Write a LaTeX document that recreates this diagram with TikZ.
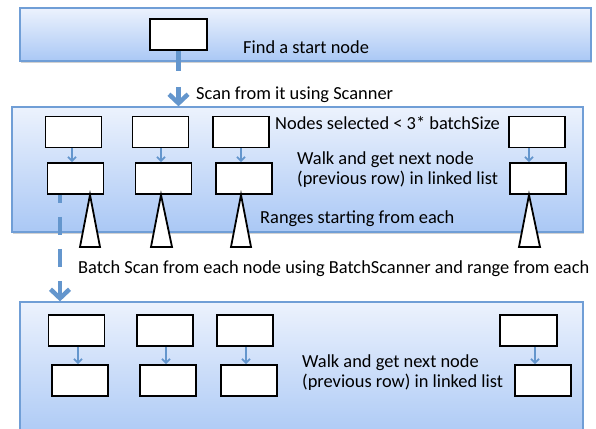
\documentclass[tikz,border=0pt]{standalone}
\usepackage{fontspec}
\setmainfont{Carlito}
\usetikzlibrary{arrows.meta,shadows}
\definecolor{panelTop}{RGB}{236,242,253}
\definecolor{panelBot}{RGB}{170,200,245}
\definecolor{panelEdge}{RGB}{112,158,214}
\definecolor{flow}{RGB}{100,150,205}
\begin{document}
\begin{tikzpicture}[x=1pt,y=-1pt,
  panel/.style={rectangle, inner sep=0pt, draw=panelEdge, line width=1.3pt,
    top color=panelTop, bottom color=panelBot,
    drop shadow={shadow xshift=1.2pt, shadow yshift=-1.8pt, opacity=0.3, fill=black!60}},
  rec/.style={rectangle, inner sep=0pt, draw=black, line width=1.8pt, fill=white,
    minimum width=56pt, minimum height=31pt},
  lbl/.style={anchor=base west, inner sep=0pt, align=left,
    font=\fontsize{18.4}{20.5}\selectfont},
  bigflow/.style={draw=flow, line width=4.5pt, -{Straight Barb[length=9pt,width=19pt]}},
  link/.style={draw=flow, line width=1.8pt, -{Straight Barb[length=4pt,width=8pt]}},
  tri/.style={draw=black, line width=1.8pt, fill=white, line join=miter}
]
\path[use as bounding box] (0,0) rectangle (596,428);
\clip (0,0) rectangle (596,428);

% the three stage panels
\node[panel, minimum width=571pt, minimum height=53pt] (top) at (305.5,34.5) {};
\node[panel, minimum width=571pt, minimum height=125pt] (mid) at (297.5,169.5) {};
\node[panel, minimum width=563pt, minimum height=140pt] (bot) at (301.5,372) {};

% stage 1: start node
\node[rec, minimum width=57pt] (start) at (178.5,34.5) {};
\node[lbl] at (243,53) {Find a start node};

% stage 2: nodes and the next node of each
\node[rec] (a1) at (73.5,132) {};
\node[rec] (a2) at (160.5,132) {};
\node[rec] (a3) at (241,132) {};
\node[rec] (a4) at (537,132) {};
\node[rec] (b1) at (75.5,178.5) {};
\node[rec] (b2) at (163.5,178.5) {};
\node[rec] (b3) at (244,178.5) {};
\node[rec] (b4) at (538,178.5) {};

\draw[link] (a1.south -| 72,0) -- (b1.north -| 72,0);
\draw[link] (a2.south -| 161,0) -- (b2.north -| 161,0);
\draw[link] (a3.south -| 241,0) -- (b3.north -| 241,0);
\draw[link] (a4.south -| 529,0) -- (b4.north -| 529,0);

% ranges hanging from each next node
\draw[tri] (b1.south -| 90,0) -- ++(-10,52) -- ++(20,0) -- cycle;
\draw[tri] (b2.south -| 161,0) -- ++(-10,52) -- ++(21,0) -- cycle;
\draw[tri] (b3.south -| 241,0) -- ++(-10,52) -- ++(20,0) -- cycle;
\draw[tri] (b4.south -| 529,0) -- ++(-10,52) -- ++(21,0) -- cycle;

\node[lbl] at (275,129) {Nodes selected < 3* batchSize};
% the base anchor of a two-line label sits on its last line
\node[lbl] at (297,184.5) {Walk and get next node\\(previous row) in linked list};
\node[lbl] at (260,223) {Ranges starting from each};

% stage 3
\node[rec] (c1) at (76.5,330.5) {};
\node[rec] (c2) at (165,330.5) {};
\node[rec] (c3) at (245,330.5) {};
\node[rec, minimum width=57pt] (c4) at (528.5,330.5) {};
\node[rec] (d1) at (80,380.5) {};
\node[rec] (d2) at (168,380.5) {};
\node[rec] (d3) at (249,380.5) {};
\node[rec] (d4) at (543,380.5) {};

\draw[link] (c1.south -| 78,0) -- (d1.north -| 78,0);
\draw[link] (c2.south -| 166,0) -- (d2.north -| 166,0);
\draw[link] (c3.south -| 246,0) -- (d3.north -| 246,0);
\draw[link] (c4.south -| 535,0) -- (d4.north -| 535,0);

\node[lbl] at (302,387.5) {Walk and get next node\\(previous row) in linked list};

% scans between the stages
\draw[bigflow, dash pattern=on 20pt off 16pt] (start.south) -- (start.south |- mid.north);
\node[lbl] at (196,99) {Scan from it using Scanner};

\draw[bigflow, dash pattern=on 18pt off 14pt, dash phase=10pt]
  (b1.south -| 60,0) -- (bot.north -| 60,0);
\node[lbl] at (78,273) {Batch Scan from each node using BatchScanner and range from each};
\end{tikzpicture}
\end{document}
